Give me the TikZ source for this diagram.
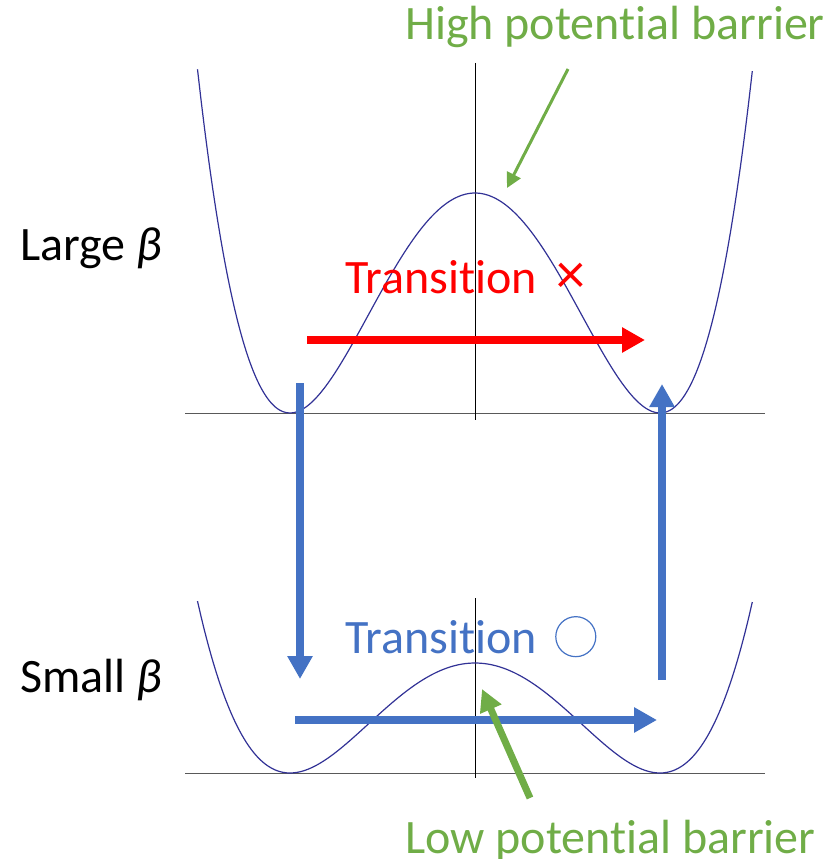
\documentclass[tikz,border=0pt]{standalone}
\usepackage{fontspec}
\setmainfont{Carlito}[Ligatures=NoCommon]
\usepackage{tikz}
\usetikzlibrary{arrows.meta, positioning}

\definecolor{curveblue}{RGB}{50,50,150}
\definecolor{arrowblue}{RGB}{68,114,196}
\definecolor{barriergreen}{RGB}{112,173,71}

\tikzset{
  lbl/.style={anchor=base west, inner sep=0pt, font=\fontsize{48}{56}\selectfont},
  well/.style={curveblue, line width=1.2pt, samples=150, smooth, variable=\t},
  axis/.style={line width=1pt},
  fatarrow/.style={line width=8pt, -{Triangle[length=23pt,width=24pt]}},
}

\begin{document}
\begin{tikzpicture}[x=1pt, y=-1pt]
    \useasboundingbox (0,0) rectangle (835,859);

    % 1. Axes
    \draw[axis, black!65] (185,413) -- (765,413);
    \draw[axis] (475,63) -- (475,420);
    \draw[axis, black!65] (185,773) -- (765,773);
    \draw[axis] (475,598) -- (475,778);

    % 2. Double wells
    \draw[well, domain=-1.5:1.5] plot ({475+185*\t}, {413-220*(\t*\t-1)^2});
    \draw[well, domain=-1.5:1.5] plot ({475+185*\t}, {773-110*(\t*\t-1)^2});

    % 3. Labels
    \node[lbl, barriergreen] (high) at (405,40) {High potential barrier};
    \node[lbl] (large) at (20,260) {Large {\itshape β}};
    \node[lbl, red] (notrans) at (345,293) {Transition\hspace{20pt}{\fontsize{58}{58}\selectfont ×}};
    \node[lbl, arrowblue] (trans) at (345,653) {Transition};
    \node[circle, draw=arrowblue, line width=1.2pt, minimum size=40pt, inner sep=0pt,
          right=18pt of trans] (okmark) {};
    \node[lbl] (small) at (20,692) {Small {\itshape β}};
    \node[lbl, barriergreen] (low) at (405,853) {Low potential barrier};

    % 4. Arrow ends
    \coordinate (redtail) at (307,340);
    \coordinate (redtip) at (645,340);
    \coordinate (downtail) at (300,383);
    \coordinate (downtip) at (300,679);
    \coordinate (uptail) at (662,680);
    \coordinate (uptip) at (662,384);
    \coordinate (bluetail) at (295,720);
    \coordinate (bluetip) at (657,720);
    \coordinate (hightail) at (568,69);
    \coordinate (hightip) at (507,188);
    \coordinate (lowtail) at (530,798);
    \coordinate (lowtip) at (482,689);

    % 5. Arrows
    \draw[fatarrow, red] (redtail) -- (redtip);
    \draw[fatarrow, arrowblue] (downtail) -- (downtip);
    \draw[fatarrow, arrowblue] (uptail) -- (uptip);
    \draw[fatarrow, arrowblue] (bluetail) -- (bluetip);
    \draw[barriergreen, line width=3pt, -{Triangle[length=15pt,width=15pt]}] (hightail) -- (hightip);
    \draw[barriergreen, line width=7pt, -{Triangle[length=22pt,width=22pt]}] (lowtail) -- (lowtip);
\end{tikzpicture}
\end{document}
